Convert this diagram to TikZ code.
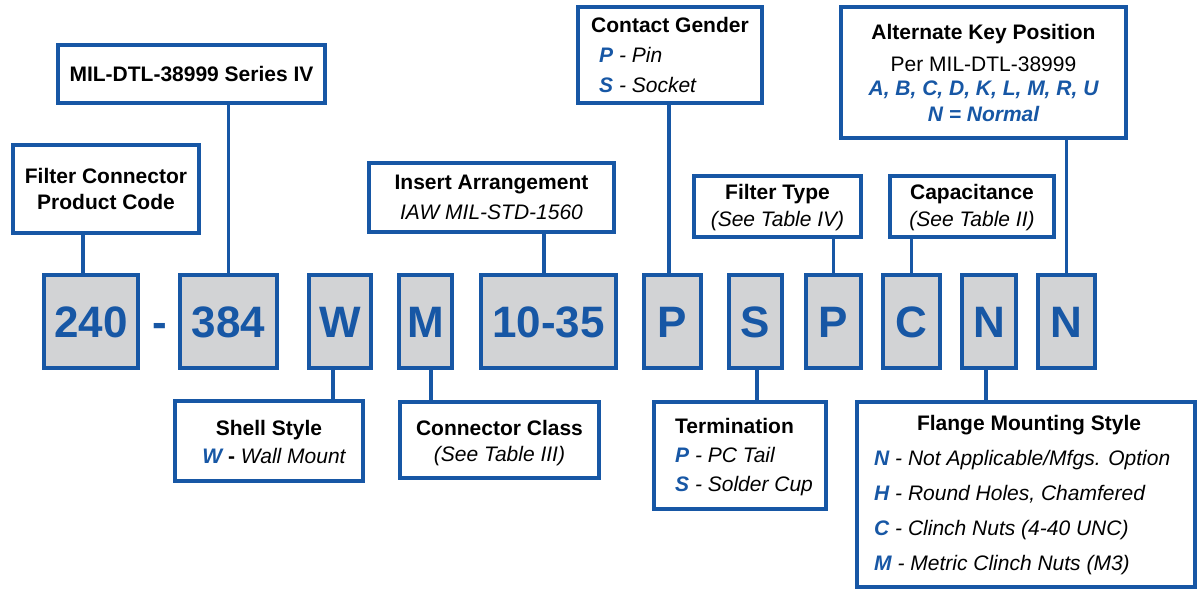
\documentclass[tikz,border=0pt]{standalone}
\usepackage{fontspec}
\setmainfont{Liberation Sans}
\definecolor{cblue}{RGB}{23,87,165}
\definecolor{cgrey}{RGB}{210,211,213}
\newcommand{\kl}[1]{{\bfseries\itshape\color{cblue}#1}}
\newcommand{\drawbox}[6]{%
  \node[#1, minimum width={(#5)-(#3)-4}, minimum height={(#6)-(#4)-4}] (#2) at ({((#3)+(#5))/2},{((#4)+(#6))/2}) {};}
\begin{document}
\begin{tikzpicture}[x=1pt,y=-1pt,
  lblbox/.style={draw=cblue, line width=4pt, fill=white, inner sep=0pt, outer sep=0pt, rectangle},
  codebox/.style={draw=cblue, line width=4pt, fill=cgrey, inner sep=0pt, outer sep=0pt, rectangle},
  conn/.style={draw=cblue, line width=3.5pt},
  codetxt/.style={font=\fontsize{44}{44}\selectfont\bfseries, text=cblue, anchor=base, inner sep=0pt},
  ttl/.style={font=\fontsize{21}{21}\selectfont\bfseries, anchor=base, inner sep=0pt},
  sub/.style={font=\fontsize{21}{21}\selectfont\itshape, anchor=base, inner sep=0pt},
  reg/.style={font=\fontsize{21}{21}\selectfont, anchor=base, inner sep=0pt}
]
\useasboundingbox (0,0) rectangle (1199,593);

% code boxes
\drawbox{codebox}{c240}{42}{273}{140}{370}
\drawbox{codebox}{c384}{178}{273}{279}{370}
\drawbox{codebox}{cW}{307}{273}{373}{370}
\drawbox{codebox}{cM}{397}{273}{454}{370}
\drawbox{codebox}{cIns}{479}{273}{618}{370}
\drawbox{codebox}{cP}{642}{273}{703}{370}
\drawbox{codebox}{cS}{727}{273}{784}{370}
\drawbox{codebox}{cPf}{804}{273}{863}{370}
\drawbox{codebox}{cC}{881}{273}{942}{370}
\drawbox{codebox}{cN}{960}{273}{1018}{370}
\drawbox{codebox}{cNk}{1036}{273}{1097}{370}

\node[codetxt] (t240) at (91,338) {240};
\node[codetxt] (hyph) at (160,338) {-};
\node[codetxt] (t384) at (228.5,338) {384};
\node[codetxt] (tW) at (340,338) {W};
\node[codetxt] (tM) at (425.5,338) {M};
\node[codetxt] (tIns) at (548.5,338) {10-35};
\node[codetxt] (tP) at (672.5,338) {P};
\node[codetxt] (tS) at (755.5,338) {S};
\node[codetxt] (tPf) at (833.5,338) {P};
\node[codetxt] (tC) at (911.5,338) {C};
\node[codetxt] (tN) at (989,338) {N};
\node[codetxt] (tNk) at (1066.5,338) {N};

% label boxes (top)
\drawbox{lblbox}{bMIL}{56}{43}{327}{105}
\drawbox{lblbox}{bFC}{11}{143}{201}{235}
\drawbox{lblbox}{bIA}{367}{161}{616}{234}
\drawbox{lblbox}{bCG}{576}{5}{764}{105}
\drawbox{lblbox}{bFT}{692}{174}{863}{239}
\drawbox{lblbox}{bCAP}{888}{174}{1056}{239}
\drawbox{lblbox}{bAK}{839}{5}{1128}{140}
% label boxes (bottom)
\drawbox{lblbox}{bSS}{173}{399}{365}{483}
\drawbox{lblbox}{bCC}{398}{400}{601}{480}
\drawbox{lblbox}{bTM}{652}{400}{828}{511}
\drawbox{lblbox}{bFM}{855}{400}{1197}{589}

% connectors
\draw[conn] ([xshift=-8pt]c240.north) -- ([xshift=-8pt]c240.north |- bFC.south);
\draw[conn] (c384.north) -- (c384.north |- bMIL.south);
\draw[conn] ([xshift=-4.5pt]cIns.north) -- ([xshift=-4.5pt]cIns.north |- bIA.south);
\draw[conn] ([xshift=-3.5pt]cP.north) -- ([xshift=-3.5pt]cP.north |- bCG.south);
\draw[conn] (cPf.north) -- (cPf.north |- bFT.south);
\draw[conn] (cC.north) -- (cC.north |- bCAP.south);
\draw[conn] (cNk.north) -- (cNk.north |- bAK.south);
\draw[conn] ([xshift=-7pt]cW.south) -- ([xshift=-7pt]cW.south |- bSS.north);
\draw[conn] ([xshift=5.5pt]cM.south) -- ([xshift=5.5pt]cM.south |- bCC.north);
\draw[conn] ([xshift=1.5pt]cS.south) -- ([xshift=1.5pt]cS.south |- bTM.north);
\draw[conn] ([xshift=-3pt]cN.south) -- ([xshift=-3pt]cN.south |- bFM.north);

% texts top
\node[ttl] (lMIL) at (191.5,82) {MIL-DTL-38999 Series IV};
\node[ttl] (lFC1) at (106,184) {Filter Connector};
\node[ttl] (lFC2) at (106,210) {Product Code};
\node[ttl] (lIA1) at (491.5,190) {Insert Arrangement};
\node[sub] (lIA2) at (491.5,220) {IAW MIL-STD-1560};
\node[ttl] (lCG1) at (670,33) {Contact Gender};
\node[sub, anchor=base west] (lCG2) at (599,63) {\kl{P} - Pin};
\node[sub, anchor=base west] (lCG3) at (599,93) {\kl{S} - Socket};
\node[ttl] (lFT1) at (777.5,200) {Filter Type};
\node[sub] (lFT2) at (777.5,227) {(See Table IV)};
\node[ttl] (lCA1) at (972,200) {Capacitance};
\node[sub] (lCA2) at (972,227) {(See Table II)};
\node[ttl] (lAK1) at (983.5,40) {Alternate Key Position};
\node[reg] (lAK2) at (983.5,72) {Per MIL-DTL-38999};
\node[reg] (lAK3) at (983.5,96) {\kl{A, B, C, D, K, L, M, R, U}};
\node[reg] (lAK4) at (983.5,122) {\kl{N = Normal}};
% texts bottom
\node[ttl] (lSS1) at (269,435) {Shell Style};
\node[sub] (lSS2) at (274,463) {\kl{W} {\bfseries\upshape -} Wall Mount};
\node[ttl] (lCC1) at (499.5,435) {Connector Class};
\node[sub] (lCC2) at (499.5,461) {(See Table III)};
\node[ttl, anchor=base west] (lTM1) at (675,433) {Termination};
\node[sub, anchor=base west] (lTM2) at (675,462) {\kl{P} - PC Tail};
\node[sub, anchor=base west] (lTM3) at (675,491) {\kl{S} - Solder Cup};
\node[ttl] (lFM1) at (1029,430) {Flange Mounting Style};
\node[sub, anchor=base west] (lFM2) at (874,465) {\kl{N} - Not Applicable/Mfgs. Option};
\node[sub, anchor=base west] (lFM3) at (874,500) {\kl{H} - Round Holes, Chamfered};
\node[sub, anchor=base west] (lFM4) at (874,535) {\kl{C} - Clinch Nuts (4-40 UNC)};
\node[sub, anchor=base west] (lFM5) at (874,570) {\kl{M} - Metric Clinch Nuts (M3)};
\end{tikzpicture}
\end{document}
